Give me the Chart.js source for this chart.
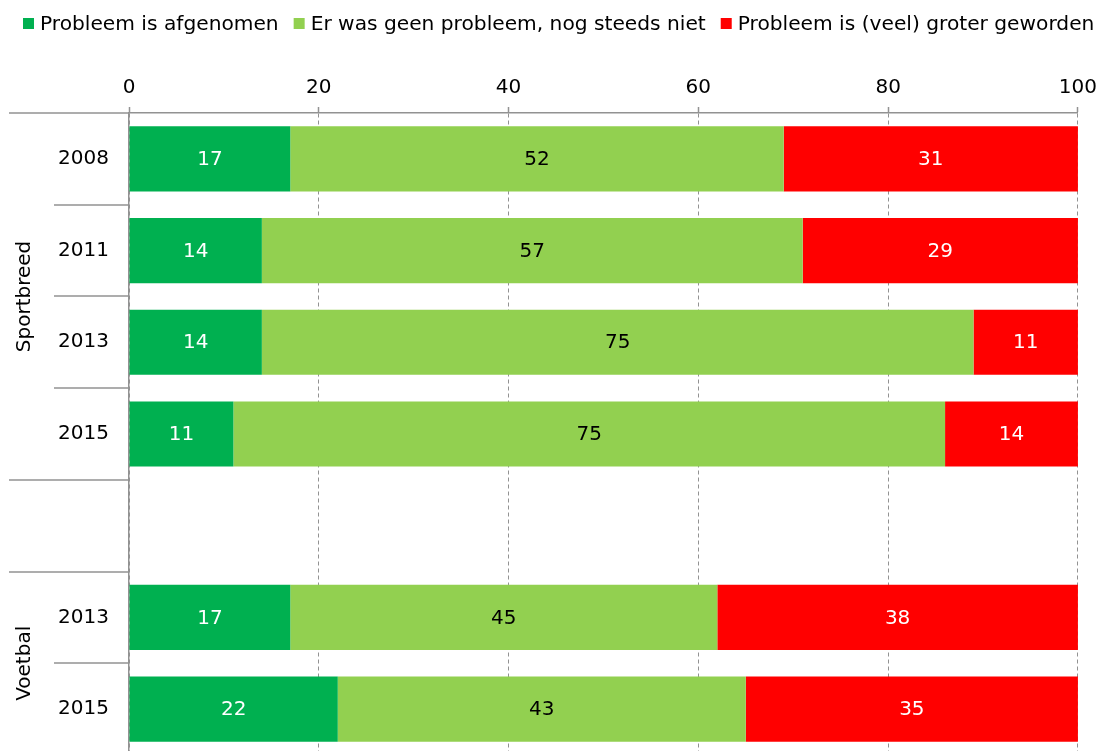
<!DOCTYPE html>
<html lang="nl">
<head>
<meta charset="utf-8">
<title>Probleem afgenomen / groter geworden</title>
<script src="https://cdn.jsdelivr.net/npm/chart.js@4.4.1/dist/chart.umd.min.js"></script>
<style>
  html, body { margin: 0; padding: 0; background: #fff; overflow: hidden; }
  #wrap { width: 1104px; height: 751px; overflow: hidden; }
</style>
</head>
<body>
<div id="wrap"><canvas id="probChart" width="1104" height="755"></canvas></div>
<script>
// data
const categories = ['2008', '2011', '2013', '2015', '', '2013', '2015'];
const seriesLabels = ['Probleem is afgenomen', 'Er was geen probleem, nog steeds niet', 'Probleem is (veel) groter geworden'];
const afgenomen = [17, 14, 14, 11, null, 17, 22];
const geenProbleem = [52, 57, 75, 75, null, 45, 43];
const groter = [31, 29, 11, 14, null, 38, 35];
const xTicks = [0, 20, 40, 60, 80, 100];
const groupLabels = ['Sportbreed', 'Voetbal'];
const groupFirst = [0, 5];
const groupLast = [3, 6];

const FONT = '"DejaVu Sans", Verdana, sans-serif';
const kleuren = ['#00B050', '#92D050', '#FF0000'];
const labelKleuren = ['#ffffff', '#000000', '#ffffff'];
const lijnKleur = '#929292';

(() => {
    const canvas = document.getElementById('probChart');
    const ctx = canvas.getContext('2d');

    // legenda bovenaan
    const legendaPlugin = {
        id: 'legenda',
        afterDraw(chart) {
            const c = chart.ctx;
            c.save();
            c.font = `20.2px ${FONT}`;
            c.textBaseline = 'middle';
            let x = 23;
            chart.data.datasets.forEach(ds => {
                c.fillStyle = ds.backgroundColor;
                c.fillRect(x, 18, 11, 11);
                x += 17;
                c.fillStyle = '#000';
                c.fillText(ds.label, x, 25);
                x += c.measureText(ds.label).width + 15;
            });
            c.restore();
        }
    };

    // waarden in de balken
    const waardenPlugin = {
        id: 'waarden',
        afterDatasetsDraw(chart) {
            const c = chart.ctx;
            c.save();
            c.font = `20px ${FONT}`;
            c.textAlign = 'center';
            c.textBaseline = 'middle';
            chart.data.datasets.forEach((ds, i) => {
                chart.getDatasetMeta(i).data.forEach((bar, j) => {
                    const v = ds.data[j];
                    if (v == null) return;
                    c.fillStyle = labelKleuren[i];
                    c.fillText(String(v), (bar.x + bar.base) / 2, bar.y + 1);
                });
            });
            c.restore();
        }
    };

    // scheidingslijnen en groepsnamen links
    const groepenPlugin = {
        id: 'groepen',
        afterDraw(chart) {
            const c = chart.ctx;
            const y = chart.scales.y;
            const left = chart.chartArea.left;
            const lang = new Set([...groupFirst, ...groupLast.map(i => i + 1)]);
            c.save();
            c.strokeStyle = lijnKleur;
            c.lineWidth = 1.5;
            for (let i = 0; i <= categories.length; i++) {
                const py = Math.round(y.getPixelForValue(i - 0.5));
                c.beginPath();
                c.moveTo(lang.has(i) ? 9 : 54, py);
                c.lineTo(left, py);
                c.stroke();
            }
            c.fillStyle = '#000';
            c.font = `20px ${FONT}`;
            c.textAlign = 'center';
            c.textBaseline = 'middle';
            groupLabels.forEach((label, g) => {
                const py = (y.getPixelForValue(groupFirst[g]) + y.getPixelForValue(groupLast[g])) / 2;
                c.save();
                c.translate(25, py);
                c.rotate(-Math.PI / 2);
                c.fillText(label, 0, 0);
                c.restore();
            });
            c.restore();
        }
    };

    const maakSerie = (i, data) => ({
        label: seriesLabels[i],
        data: data,
        backgroundColor: kleuren[i],
        borderWidth: 0,
        barPercentage: 0.71,
        categoryPercentage: 1
    });

    new Chart(ctx, {
        type: 'bar',
        data: {
            labels: categories,
            datasets: [
                maakSerie(0, afgenomen),
                maakSerie(1, geenProbleem),
                maakSerie(2, groter)
            ]
        },
        options: {
            indexAxis: 'y',
            responsive: false,
            animation: false,
            devicePixelRatio: 1,
            layout: { padding: { top: 0, right: 25, bottom: 0, left: 0 } },
            plugins: {
                legend: { display: false },
                tooltip: { enabled: false }
            },
            scales: {
                x: {
                    position: 'top',
                    stacked: true,
                    min: 0,
                    max: 100,
                    afterBuildTicks: s => { s.ticks = xTicks.map(v => ({ value: v })); },
                    afterFit: s => { s.height = 113; },
                    grid: { color: lijnKleur, lineWidth: 1, tickLength: 6, tickColor: lijnKleur, tickWidth: 1.5 },
                    border: { color: lijnKleur, width: 1.5, dash: [4, 3] },
                    ticks: { color: '#000', font: { family: FONT, size: 20 }, padding: 7 }
                },
                y: {
                    stacked: true,
                    afterFit: s => { s.width = 129; s.paddingTop = 0; s.paddingBottom = 0; },
                    grid: { display: false, drawTicks: false },
                    border: { color: lijnKleur, width: 1.5 },
                    ticks: { color: '#000', font: { family: FONT, size: 20 }, padding: 20, autoSkip: false }
                }
            }
        },
        plugins: [legendaPlugin, waardenPlugin, groepenPlugin]
    });

    console.log('grafiek getekend');
})();
</script>
</body>
</html>
